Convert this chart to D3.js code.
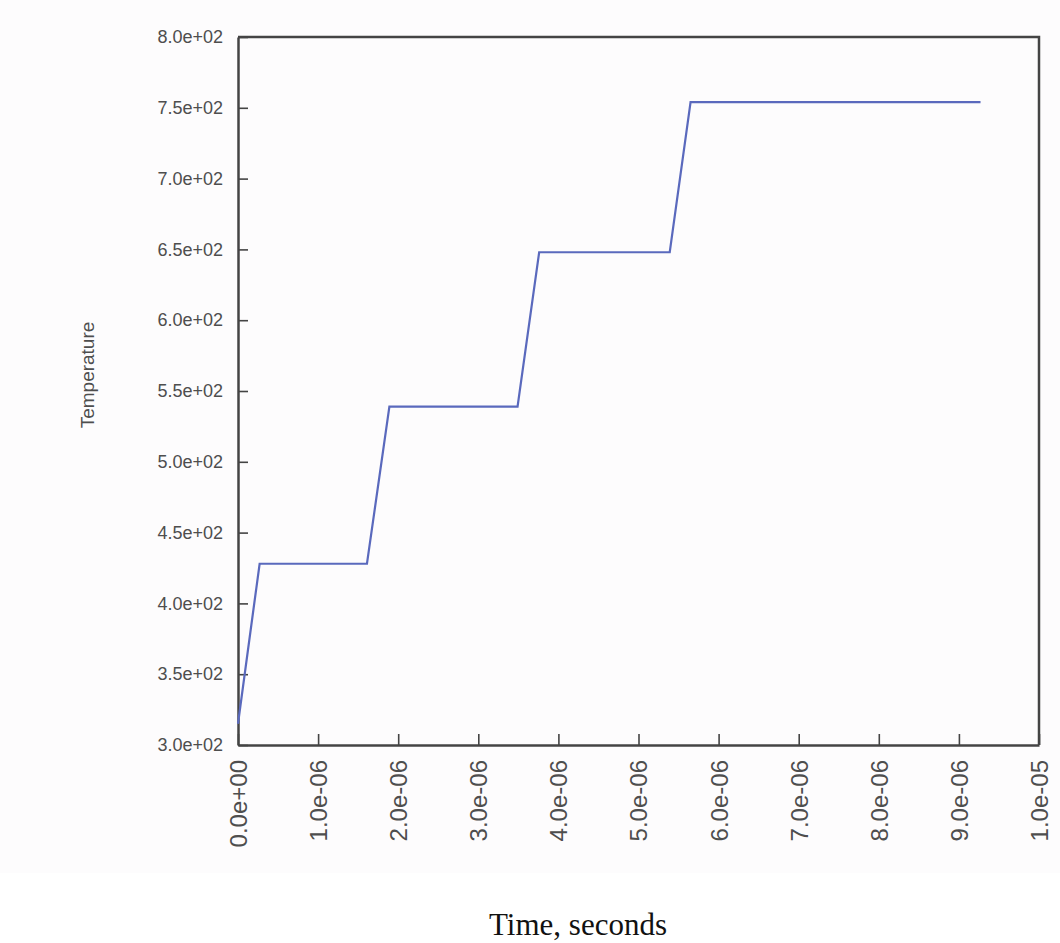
<!DOCTYPE html>
<html>
<head>
<meta charset="utf-8">
<title>Temperature vs time</title>
<script src="https://d3js.org/d3.v7.min.js"></script>
<style>
    body { margin: 0; background: #fff; }
    svg { display: block; }
    .tick text { fill: #4e4e4e; font-family: "Liberation Sans", Arial, sans-serif; }
</style>
</head>
<body>
<div id="chart"></div>
<script>
    // values (time in seconds, temperature)
    const timeVals = [0, 0.27e-6, 1.61e-6, 1.89e-6, 3.49e-6, 3.76e-6, 5.39e-6, 5.65e-6, 9.27e-6];
    const tempVals = [315, 428, 428, 539, 539, 648, 648, 754, 754];
    const xTicks = [0, 1e-6, 2e-6, 3e-6, 4e-6, 5e-6, 6e-6, 7e-6, 8e-6, 9e-6, 1e-5];
    const yTicks = [300, 350, 400, 450, 500, 550, 600, 650, 700, 750, 800];

    const W = 1060, H = 943;
    const plot = { left: 238, right: 1039, top: 37, bottom: 745 };

    const svg = d3.select("#chart").append("svg")
        .attr("width", W)
        .attr("height", H);

    // scanned page background
    svg.append("rect")
        .attr("x", 0).attr("y", 0)
        .attr("width", W).attr("height", 873)
        .attr("fill", "#fdfcfd");

    const x = d3.scaleLinear().domain([0, 1e-5]).range([plot.left, plot.right]);
    const y = d3.scaleLinear().domain([300, 800]).range([plot.bottom, plot.top]);

    const fmt = v => v.toExponential(1).replace(/e([+-])(\d)$/, "e$10$2");

    // frame (top + right)
    svg.append("path")
        .attr("d", `M${plot.left},${plot.top}H${plot.right}V${plot.bottom}`)
        .attr("fill", "none")
        .attr("stroke", "#444")
        .attr("stroke-width", 2.5);

    const yAxis = svg.append("g")
        .attr("transform", `translate(${plot.left},0)`)
        .call(d3.axisLeft(y).tickValues(yTicks).tickFormat(fmt)
            .tickSizeInner(-10).tickSizeOuter(0).tickPadding(15));
    yAxis.selectAll("text").attr("font-size", 18);

    const xAxis = svg.append("g")
        .attr("transform", `translate(0,${plot.bottom})`)
        .call(d3.axisBottom(x).tickValues(xTicks).tickFormat(fmt)
            .tickSizeInner(-11).tickSizeOuter(0));
    xAxis.selectAll("text")
        .attr("font-size", 24)
        .attr("text-anchor", "end")
        .attr("dy", "0.35em")
        .attr("transform", "translate(0,15) rotate(-90)")
        .attr("x", 0).attr("y", 0);

    [yAxis, xAxis].forEach(g => {
        g.select(".domain").attr("stroke", "#444").attr("stroke-width", 2.5);
        g.selectAll(".tick line").attr("stroke", "#444").attr("stroke-width", 1.6);
    });

    const line = d3.line()
        .x((d, i) => x(timeVals[i]))
        .y(d => y(d));

    svg.append("path")
        .datum(tempVals)
        .attr("d", line)
        .attr("fill", "none")
        .attr("stroke", "#5a69bd")
        .attr("stroke-width", 2.2);

    svg.append("text")
        .attr("transform", "translate(94,375) rotate(-90)")
        .attr("text-anchor", "middle")
        .attr("font-family", "Liberation Sans, Arial, sans-serif")
        .attr("font-size", 19)
        .attr("fill", "#4e4e4e")
        .text("Temperature");

    svg.append("text")
        .attr("x", 578)
        .attr("y", 935)
        .attr("text-anchor", "middle")
        .attr("font-family", "Liberation Serif, Times New Roman, serif")
        .attr("font-size", 31)
        .attr("fill", "#111")
        .text("Time, seconds");
</script>
</body>
</html>
